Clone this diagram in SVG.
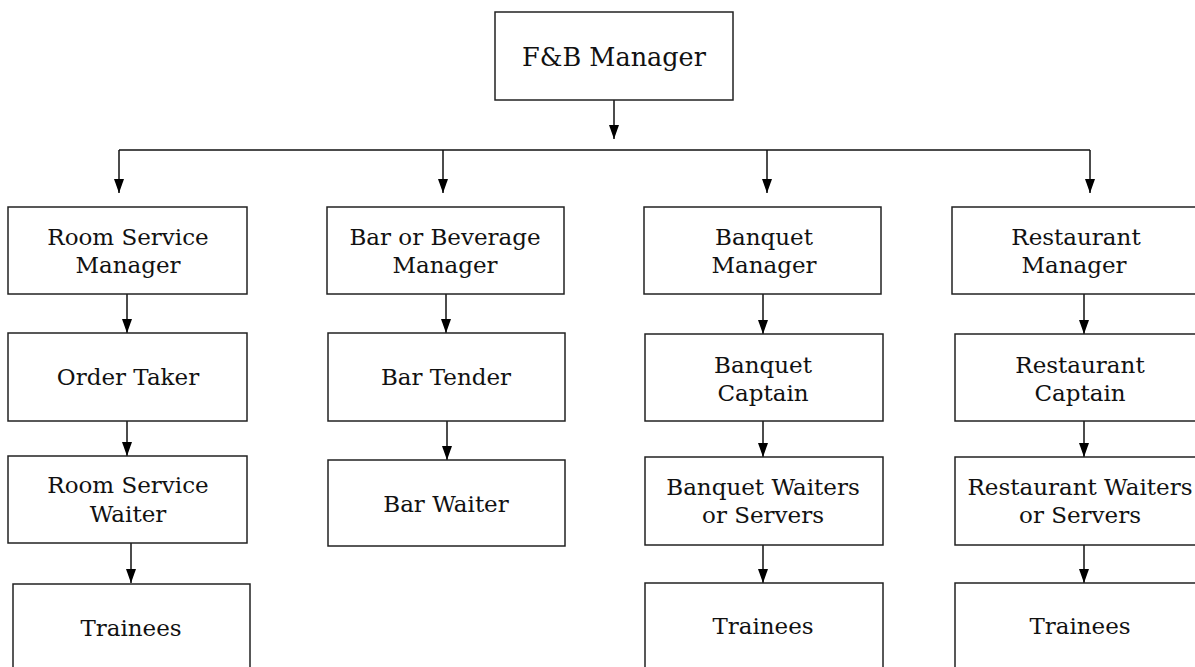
<svg xmlns="http://www.w3.org/2000/svg" width="1195" height="667" viewBox="0 0 1195 667">
<style>
.box{fill:#fff;stroke:#222;stroke-width:1.5}
.t{font-family:"DejaVu Serif","Liberation Serif",serif;font-size:23px;fill:#111;text-anchor:middle}
.top{font-size:25.5px}
.c{stroke:#111;stroke-width:1.5;fill:none}
</style>
<defs>
<marker id="ah" markerUnits="userSpaceOnUse" markerWidth="14" markerHeight="10" viewBox="0 0 14 10" refX="14" refY="5" orient="auto">
<path d="M0,0 L14,5 L0,10 z" fill="#000"/>
</marker>
</defs>
<rect width="1195" height="667" fill="#fff"/>
<g id="connectors">
<line class="c" x1="614" y1="100" x2="614" y2="139" marker-end="url(#ah)"/>
<line class="c" x1="119" y1="150" x2="1090" y2="150"/>
<line class="c" x1="119" y1="150" x2="119" y2="193" marker-end="url(#ah)"/>
<line class="c" x1="443" y1="150" x2="443" y2="193" marker-end="url(#ah)"/>
<line class="c" x1="767" y1="150" x2="767" y2="193" marker-end="url(#ah)"/>
<line class="c" x1="1090" y1="150" x2="1090" y2="193" marker-end="url(#ah)"/>
<line class="c" x1="127" y1="294" x2="127" y2="333" marker-end="url(#ah)"/>
<line class="c" x1="127" y1="421" x2="127" y2="456" marker-end="url(#ah)"/>
<line class="c" x1="131" y1="543" x2="131" y2="583" marker-end="url(#ah)"/>
<line class="c" x1="446" y1="294" x2="446" y2="333" marker-end="url(#ah)"/>
<line class="c" x1="447" y1="421" x2="447" y2="460" marker-end="url(#ah)"/>
<line class="c" x1="763" y1="294" x2="763" y2="334" marker-end="url(#ah)"/>
<line class="c" x1="763" y1="421" x2="763" y2="457" marker-end="url(#ah)"/>
<line class="c" x1="763" y1="545" x2="763" y2="583" marker-end="url(#ah)"/>
<line class="c" x1="1084" y1="294" x2="1084" y2="334" marker-end="url(#ah)"/>
<line class="c" x1="1084" y1="421" x2="1084" y2="457" marker-end="url(#ah)"/>
<line class="c" x1="1084" y1="545" x2="1084" y2="583" marker-end="url(#ah)"/>
</g>
<g id="fb-manager"><rect class="box" x="495" y="12" width="238" height="88"/><text class="t top" x="614" y="66">F&amp;B Manager</text></g>
<g id="room-service-manager"><rect class="box" x="8" y="207" width="239" height="87"/><text class="t" x="128" y="245">Room Service</text><text class="t" x="128" y="273">Manager</text></g>
<g id="order-taker"><rect class="box" x="8" y="333" width="239" height="88"/><text class="t" x="128" y="385">Order Taker</text></g>
<g id="room-service-waiter"><rect class="box" x="8" y="456" width="239" height="87"/><text class="t" x="128" y="493">Room Service</text><text class="t" x="128" y="522">Waiter</text></g>
<g id="trainees-1"><rect class="box" x="13" y="584" width="237" height="100"/><text class="t" x="131" y="636">Trainees</text></g>
<g id="bar-manager"><rect class="box" x="327" y="207" width="237" height="87"/><text class="t" x="445" y="245">Bar or Beverage</text><text class="t" x="445" y="273">Manager</text></g>
<g id="bar-tender"><rect class="box" x="328" y="333" width="237" height="88"/><text class="t" x="446" y="385">Bar Tender</text></g>
<g id="bar-waiter"><rect class="box" x="328" y="460" width="237" height="86"/><text class="t" x="446" y="512">Bar Waiter</text></g>
<g id="banquet-manager"><rect class="box" x="644" y="207" width="237" height="87"/><text class="t" x="764" y="245">Banquet</text><text class="t" x="764" y="273">Manager</text></g>
<g id="banquet-captain"><rect class="box" x="645" y="334" width="238" height="87"/><text class="t" x="763" y="373">Banquet</text><text class="t" x="763" y="401">Captain</text></g>
<g id="banquet-waiters"><rect class="box" x="645" y="457" width="238" height="88"/><text class="t" x="763" y="495">Banquet Waiters</text><text class="t" x="763" y="523">or Servers</text></g>
<g id="trainees-3"><rect class="box" x="645" y="583" width="238" height="100"/><text class="t" x="763" y="634">Trainees</text></g>
<g id="restaurant-manager"><rect class="box" x="952" y="207" width="260" height="87"/><text class="t" x="1076" y="245">Restaurant</text><text class="t" x="1074" y="273">Manager</text></g>
<g id="restaurant-captain"><rect class="box" x="955" y="334" width="260" height="87"/><text class="t" x="1080" y="373">Restaurant</text><text class="t" x="1080" y="401">Captain</text></g>
<g id="restaurant-waiters"><rect class="box" x="955" y="457" width="260" height="88"/><text class="t" x="1080" y="495">Restaurant Waiters</text><text class="t" x="1080" y="523">or Servers</text></g>
<g id="trainees-4"><rect class="box" x="955" y="583" width="260" height="100"/><text class="t" x="1080" y="634">Trainees</text></g>
</svg>
